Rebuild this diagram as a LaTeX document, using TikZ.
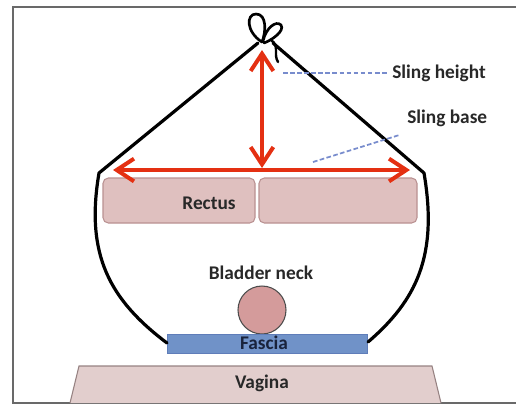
\documentclass[tikz,border=0pt]{standalone}
\usepackage{fontspec}
\setmainfont{Carlito}
\usetikzlibrary{arrows.meta}
\definecolor{arrred}{RGB}{228,48,18}
\definecolor{rectfill}{RGB}{223,192,191}
\definecolor{rectline}{RGB}{185,145,145}
\definecolor{bladfill}{RGB}{212,155,155}
\definecolor{fascfill}{RGB}{112,146,200}
\definecolor{fascline}{RGB}{95,125,185}
\definecolor{vagfill}{RGB}{226,206,205}
\definecolor{vagline}{RGB}{150,130,130}
\definecolor{dashcol}{RGB}{120,140,205}
\definecolor{txtcol}{RGB}{40,40,40}
\definecolor{fasctxt}{RGB}{25,35,60}
\definecolor{framecol}{RGB}{105,105,105}
\tikzset{
  lbl/.style={font=\fontsize{14.5}{17}\selectfont\bfseries, text=txtcol, inner sep=0pt},
  slingline/.style={line width=2.4pt, black, line cap=round},
  redarrow/.style={line width=3pt, arrred, {Straight Barb[length=13pt,width=17pt]}-{Straight Barb[length=13pt,width=17pt]}},
  muscle/.style={draw=rectline, fill=rectfill, line width=0.8pt, rounded corners=4pt, inner sep=0pt},
  dashlbl/.style={dashcol, line width=1.3pt, dash pattern=on 3.5pt off 1.8pt}
}
\begin{document}
\begin{tikzpicture}[x=0.75pt,y=-0.75pt]
\useasboundingbox (0,0) rectangle (516,405);
% frame
\draw[framecol, line width=1.5pt] (516,7) -- (13,7) -- (13,403) -- (516,403);
% vagina
\draw[fill=vagfill, draw=vagline, line width=0.8pt] (70,403) -- (79,366) -- (432,366) -- (441,403);
\node[lbl] (vag) at (262,383) {Vagina};
% muscles
\node[muscle, minimum width=114pt, minimum height=33.75pt] (rectL) at (179,200.5) {};
\node[muscle, minimum width=118.5pt, minimum height=33.75pt] (rectR) at (338,200.5) {};
\node[lbl] (rectus) at (209,203) {Rectus};
% bladder
\node[lbl] (bladlbl) at (261,273) {Bladder neck};
\node[circle, draw=black!70, fill=bladfill, line width=0.8pt, minimum size=36pt, inner sep=0pt] (blad) at (262,310) {};
% fascia
\node[draw=fascline, fill=fascfill, minimum width=150pt, minimum height=14.25pt, inner sep=0pt] (fasc) at (267,343.5) {};
\node[font=\fontsize{14.5}{17}\selectfont\bfseries, text=fasctxt, inner sep=0pt] (fasclbl) at (264,343) {Fascia};
% sling
\coordinate (apexL) at (258,43);
\coordinate (apexR) at (273,43);
\coordinate (cornL) at (99,173);
\coordinate (cornR) at (424,173);
\coordinate (endL) at (167,343);
\coordinate (endR) at (368,342);
\draw[slingline, line join=round] (apexL) -- (cornL) .. controls (85,255) and (110,300) .. (endL);
\draw[slingline, line join=round] (apexR) -- (cornR) .. controls (438,255) and (417,300) .. (endR);
% knot
\draw[black, line width=2pt, line cap=round] (262,42) .. controls (246,32) and (246,14) .. (256,14) .. controls (267,14) and (266,32) .. (262,42);
\draw[black, line width=2pt, line cap=round] (263,41) .. controls (266,28) and (276,20) .. (281,25) .. controls (285,31) and (272,40) .. (264,43);
\draw[black, line width=1.8pt, line cap=round] (271,40) .. controls (280,46) and (273,54) .. (278,62);
% red arrows
\coordinate (baseL) at (113,170);
\coordinate (baseR) at (410,170);
\coordinate (hTop) at (262,50);
\coordinate (hBot) at (262,168);
\draw[redarrow] (baseL) -- (baseR);
\draw[redarrow] (hTop) -- (hBot);
% labels
\node[lbl, anchor=west] (hlbl) at (392,73) {Sling height};
\node[lbl, anchor=west] (blbl) at (407,118) {Sling base};
\coordinate (hdash) at (283,73);
\coordinate (bdash) at (313,162);
\draw[dashlbl] (hdash) -- ([xshift=-4pt]hlbl.west);
\draw[dashlbl] (bdash) -- ([xshift=-5pt,yshift=-6pt]blbl.south west);
\end{tikzpicture}
\end{document}
